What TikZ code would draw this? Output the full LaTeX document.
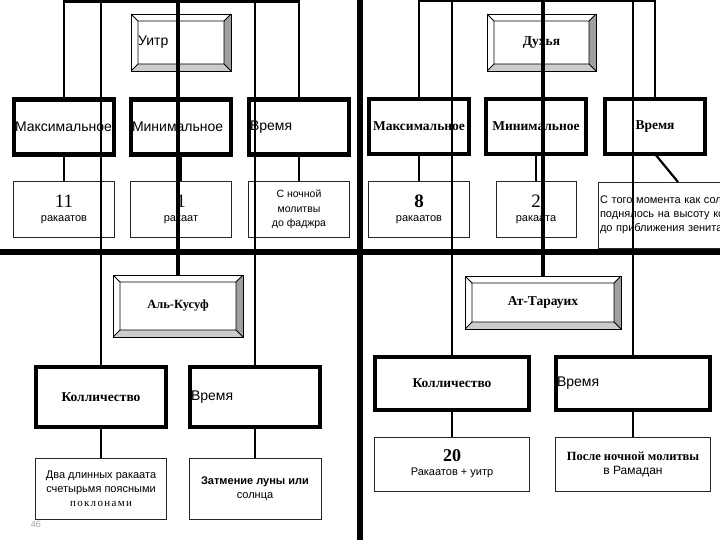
\documentclass[tikz,border=0pt]{standalone}
\usepackage{fontspec}
\setmainfont{Liberation Serif}
\setsansfont{Liberation Sans}
\usepackage{xcolor}
\usepackage{tikz}
\usetikzlibrary{positioning,calc}

\newcommand{\numfont}{\rmfamily\fontsize{19}{21}\selectfont}
\newcommand{\hdfont}{\rmfamily\bfseries\fontsize{13.5}{16}\selectfont}

\begin{document}
\begin{tikzpicture}[
    x=1pt, y=-1pt,
    bevel/.style={draw, line width=0.8pt, fill=white, inner sep=0pt, outer sep=0pt, align=center,
      path picture={
        \path (path picture bounding box.north west) coordinate (pA)
              (path picture bounding box.north east) coordinate (pB)
              (path picture bounding box.south east) coordinate (pC)
              (path picture bounding box.south west) coordinate (pD);
        \path ([shift={(7pt,-7pt)}]pA) coordinate (qA) ([shift={(-7pt,-7pt)}]pB) coordinate (qB)
              ([shift={(-7pt,7pt)}]pC) coordinate (qC) ([shift={(7pt,7pt)}]pD) coordinate (qD);
        \fill[gray!75] (pB) -- (pC) -- (qC) -- (qB) -- cycle;
        \fill[gray!40] (pD) -- (pC) -- (qC) -- (qD) -- cycle;
        \draw[line width=0.8pt] (qA) rectangle (qC) (pA) -- (qA) (pB) -- (qB) (pC) -- (qC) (pD) -- (qD);
      }},
    lvl/.style={draw, line width=4.3pt, fill=white, minimum width=100pt, minimum height=55pt,
      inner sep=1pt, outer sep=0pt, font=\hdfont},
    lvlwide/.style={lvl, line width=4.6pt, minimum width=130pt, minimum height=60pt},
    lefttxt/.style={text width=#1, align=left, font=\sffamily\fontsize{14}{16}\selectfont},
    item/.style={draw=black!85, line width=0.8pt, fill=white, minimum height=56pt, inner sep=2pt,
      outer sep=0pt, align=center, font=\sffamily\fontsize{11}{14}\selectfont},
    link/.style={line width=2.2pt},
    trunk/.style={line width=4pt},
    divider/.style={line width=6pt}
]
    \useasboundingbox (0,0) rectangle (720,540);
    \fill[white] (0,0) rectangle (720,540);

    \node[bevel, minimum width=100pt, minimum height=57pt, text width=86pt, align=left,
      font=\sffamily\fontsize{14}{16}\selectfont] (uitr) at (181,42.5) {Уитр};
    \node[lvl, lefttxt=98pt] (max1) at (64,127) {Максимальное};
    \node[lvl, lefttxt=98pt, right=17pt of max1] (min1) {Минимальное};
    \node[lvl, lefttxt=98pt, right=18pt of min1] (time1) {Время};
    \node[item, minimum width=101pt, below=27pt of max1] (r1) {{\numfont 11}\\ракаатов};
    \node[item, minimum width=101pt, below=27pt of min1] (r2) {{\numfont 1}\\ракаат};
    \node[item, minimum width=101pt, below=27pt of time1, font=\sffamily\fontsize{10.5}{14.5}\selectfont] (r3)
      {С ночной\\молитвы\\до фаджра};

    \node[bevel, minimum width=109pt, minimum height=57pt, font=\hdfont] (duhya) at (541.5,42.5) {Духья};
    \node[lvl] (max2) at (419,126.5) {Максимальное};
    \node[lvl, right=17pt of max2] (min2) {Минимальное};
    \node[lvl, right=19pt of min2] (time2) {Время};
    \node[item, minimum width=101pt, below=27pt of max2] (r4) {{\numfont\bfseries 8}\\ракаатов};
    \node[item, minimum width=80pt, below=27pt of min2] (r5) {{\numfont 2}\\ракаата};
    \node[item, minimum width=160pt, minimum height=66pt, text width=156pt, align=left, anchor=north west]
      (r6) at (598,182) {С того момента как солнце\\поднялось на высоту копья\\до приближения зенита};

    \node[bevel, minimum width=130pt, minimum height=62pt, font=\rmfamily\bfseries\fontsize{12.5}{15}\selectfont]
      (kusuf) at (178,306) {Аль-Кусуф};
    \node[lvlwide] (qty1) at (101,397) {Колличество};
    \node[lvlwide, lefttxt=128pt, right=24pt of qty1] (time3) {Время};
    \node[item, minimum width=131pt, minimum height=61pt, below=31pt of qty1] (l1)
      {Два длинных ракаата\\счетырьмя поясными\\{\rmfamily\fontsize{11}{13}\selectfont\addfontfeatures{LetterSpace=12} поклонами}};
    \node[item, minimum width=132pt, minimum height=61pt, below=31pt of time3] (l2)
      {{\bfseries Затмение луны или}\\солнца};

    \node[bevel, minimum width=156pt, minimum height=53pt, font=\hdfont] (tarauih) at (543,302.5) {Ат-Тарауих};
    \node[lvlwide, minimum width=154pt, minimum height=53pt] (qty2) at (452,383.5) {Колличество};
    \node[lvlwide, minimum width=154pt, minimum height=53pt, lefttxt=152pt, right=27pt of qty2] (time4) {Время};
    \node[item, minimum width=155pt, minimum height=54pt, below=27pt of qty2] (l3)
      {{\rmfamily\bfseries\fontsize{18}{20}\selectfont 20}\\Ракаатов + уитр};
    \node[item, minimum width=155pt, minimum height=54pt, below=27pt of time4] (l4)
      {{\rmfamily\bfseries\fontsize{12.5}{15}\selectfont После ночной молитвы}\\{\fontsize{12}{15}\selectfont в Рамадан}};

    \node[text=gray!70, font=\sffamily\fontsize{9}{9}\selectfont] (page) at (36,524) {46};

    \draw[link] (max1.north) -- ++(0,-98) -| (time1.north);
    \draw[link] (max1) -- (r1);
    \draw[link] (min1) -- (r2);
    \draw[link] (time1) -- (r3);
    \draw[link] (max2.north) -- ++(0,-98) -| (time2.north);
    \draw[link] (max2) -- (r4);
    \draw[link] (min2) -- (r5);
    \draw[link] (time2.south) -- (r6.north);
    \draw[link] (qty1) -- (l1);
    \draw[link] (time3) -- (l2);
    \draw[link] (qty2) -- (l3);
    \draw[link] (time4) -- (l4);

    \draw[link] (qty1.north) -- (qty1.north |- 0,0);
    \draw[link] (time3.north) -- (time3.north |- 0,0);
    \draw[link] (qty2.north) -- (qty2.north |- 0,0);
    \draw[link] (time4.north) -- (time4.north |- 0,0);
    \draw[trunk] (kusuf.north) -- (kusuf.north |- 0,0);
    \draw[trunk] (tarauih.north) -- (tarauih.north |- 0,0);

    \draw[divider] (0,252) -- (720,252);
    \draw[divider] (360,0) -- (360,540);
\end{tikzpicture}
\end{document}
